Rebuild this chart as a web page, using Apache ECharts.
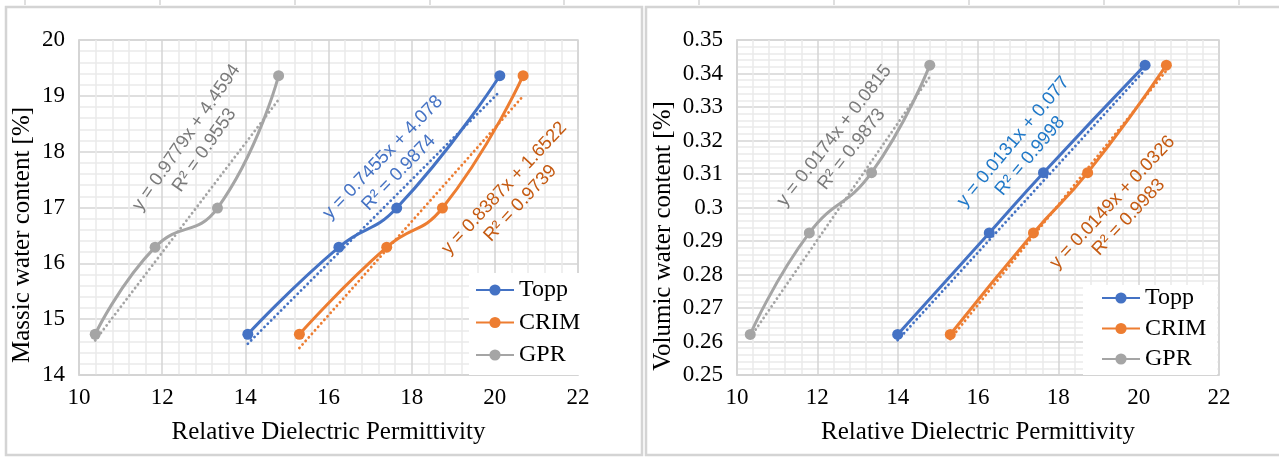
<!DOCTYPE html>
<html>
<head>
<meta charset="utf-8">
<title>Water content vs relative dielectric permittivity</title>
<script src="https://cdn.jsdelivr.net/npm/echarts@6/dist/echarts.min.js"></script>
<style>
  html, body { margin: 0; padding: 0; background: #ffffff; }
  #chart { width: 1279px; height: 458px; }
</style>
</head>
<body>
<div id="chart"></div>
<script>
// ---- data ----------------------------------------------------------------
const seriesNames = ['Topp', 'CRIM', 'GPR'];

// Massic water content [%] (left panel)
const massicWater = [14.73, 16.29, 16.99, 19.36];
const massicPermTopp = [14.06, 16.25, 17.64, 20.12];
const massicPermCrim = [15.30, 17.40, 18.74, 20.68];
const massicPermGpr  = [10.39, 11.83, 13.33, 14.80];

// Volumic water content (right panel)
const volumicWater = [0.2621, 0.2924, 0.3104, 0.3425];
const volumicPermTopp = [14.00, 16.28, 17.63, 20.16];
const volumicPermCrim = [15.31, 17.38, 18.73, 20.69];
const volumicPermGpr  = [10.33, 11.80, 13.35, 14.80];

// Linear trend lines: slope, intercept, R² (as printed on the chart)
const massicSlope     = [0.7455, 0.8387, 0.9779];
const massicIntercept = [4.078, 1.6522, 4.4594];
const massicR2        = ['0.9874', '0.9739', '0.9553'];
const volumicSlope     = [0.0131, 0.0149, 0.0174];
const volumicIntercept = [0.077, 0.0326, 0.0815];
const volumicR2        = ['0.9998', '0.9983', '0.9873'];

// Equation labels: anchor point (data units) and rotation (degrees)
const massicLabelX   = [17.50, 20.42, 12.80];
const massicLabelY   = [17.76, 17.21, 18.14];
const massicLabelRot = [46, 47, 55];
const volumicLabelX   = [17.09, 19.55, 12.64];
const volumicLabelY   = [0.3175, 0.2993, 0.3194];
const volumicLabelRot = [50, 47, 52];

// Axis tick labels
const permTicks    = [10, 12, 14, 16, 18, 20, 22];
const massicTicks  = [14, 15, 16, 17, 18, 19, 20];
const volumicTicks = ['0.25', '0.26', '0.27', '0.28', '0.29', '0.3',
                      '0.31', '0.32', '0.33', '0.34', '0.35'];

// ---- styling -------------------------------------------------------------
const COLORS = ['#4472C4', '#ED7D31', '#A5A5A5'];
const LABEL_COLORS_LEFT  = ['#4472C4', '#C55A11', '#7A7A7A'];
const LABEL_COLORS_RIGHT = ['#1F78C8', '#C55A11', '#7A7A7A'];
const SERIF = "'Liberation Serif', 'Times New Roman', serif";
const SANS = "'Liberation Sans', Arial, sans-serif";
const MAJOR = '#d4d4d4';
const MINOR = '#eaeaea';

function tickFormatter(ticks) {
  return function (v) {
    let best = ticks[0];
    for (const t of ticks) {
      if (Math.abs(Number(t) - v) < Math.abs(Number(best) - v)) best = t;
    }
    return String(best);
  };
}

function valueAxis(gridIndex, ticks, extra) {
  const lo = Number(ticks[0]);
  const hi = Number(ticks[ticks.length - 1]);
  const step = +(Number(ticks[1]) - Number(ticks[0])).toFixed(6);
  return Object.assign({
    type: 'value',
    gridIndex: gridIndex,
    min: lo,
    max: hi,
    interval: step,
    axisLine: { show: true, lineStyle: { color: MAJOR, width: 1.5 } },
    axisTick: { show: false },
    minorTick: { show: false, splitNumber: 5 },
    splitLine: { show: true, lineStyle: { color: MAJOR, width: 1.5 } },
    minorSplitLine: { show: true, lineStyle: { color: MINOR, width: 1.5 } },
    axisLabel: {
      show: true,
      showMinLabel: true,
      showMaxLabel: true,
      color: '#000',
      fontFamily: SERIF,
      fontSize: 23,
      formatter: tickFormatter(ticks)
    }
  }, extra || {});
}

function xAxisFor(gridIndex) {
  const ax = valueAxis(gridIndex, permTicks, {
    name: 'Relative Dielectric Permittivity',
    nameLocation: 'middle',
    nameGap: 45,
    nameTextStyle: { color: '#000', fontFamily: SERIF, fontSize: 25 }
  });
  ax.axisLabel.margin = 11;
  return ax;
}

function yAxisFor(gridIndex, ticks) {
  const ax = valueAxis(gridIndex, ticks);
  ax.axisLabel.margin = 14;
  return ax;
}

function zip(xs, ys) {
  return xs.map((x, i) => [x, ys[i]]);
}

function dataSeries(name, idx, gridIdx, xs, ys) {
  return {
    name: name,
    type: 'line',
    xAxisIndex: gridIdx,
    yAxisIndex: gridIdx,
    data: zip(xs, ys),
    smooth: 0.5,
    symbol: 'circle',
    symbolSize: 11,
    color: COLORS[idx],
    lineStyle: { color: COLORS[idx], width: 3 },
    itemStyle: { color: COLORS[idx] },
    z: 3
  };
}

// Trend line drawn across the x-range of its series from the printed equation
function trendSeries(name, idx, gridIdx, xs, slope, intercept) {
  const x0 = Math.min.apply(null, xs);
  const x1 = Math.max.apply(null, xs);
  return {
    name: name + ' trend',
    type: 'line',
    xAxisIndex: gridIdx,
    yAxisIndex: gridIdx,
    data: [[x0, slope * x0 + intercept], [x1, slope * x1 + intercept]],
    symbol: 'none',
    lineStyle: { color: COLORS[idx], width: 2.8, type: [0.1, 4.6], cap: 'round' },
    z: 4,
    silent: true
  };
}

const leftX = [massicPermTopp, massicPermCrim, massicPermGpr];
const rightX = [volumicPermTopp, volumicPermCrim, volumicPermGpr];

const series = [];
seriesNames.forEach((n, i) => series.push(dataSeries(n, i, 0, leftX[i], massicWater)));
seriesNames.forEach((n, i) => series.push(trendSeries(n, i, 0, leftX[i], massicSlope[i], massicIntercept[i])));
seriesNames.forEach((n, i) => series.push(dataSeries(n, i, 1, rightX[i], volumicWater)));
seriesNames.forEach((n, i) => series.push(trendSeries(n, i, 1, rightX[i], volumicSlope[i], volumicIntercept[i])));

function legendAt(left, top, gap, padding) {
  return {
    data: seriesNames,
    orient: 'vertical',
    left: left,
    top: top,
    itemGap: gap,
    itemWidth: 38,
    itemHeight: 14,
    padding: padding,
    backgroundColor: '#ffffff',
    selectedMode: false,
    textStyle: { color: '#000', fontFamily: SERIF, fontSize: 24, lineHeight: 24 }
  };
}

// Panel frames and the tick marks of the outer frame above them
const frame = [
  { type: 'rect', shape: { x: 6, y: 7, width: 636, height: 448 },
    style: { fill: 'none', stroke: '#d4d4d4', lineWidth: 2.5 }, silent: true, z: -10 },
  { type: 'rect', shape: { x: 646, y: 7, width: 640, height: 448 },
    style: { fill: 'none', stroke: '#d4d4d4', lineWidth: 2.5 }, silent: true, z: -10 }
];
[25, 160, 295, 430, 564, 699, 834, 969, 1104, 1239].forEach(x => {
  frame.push({ type: 'line', shape: { x1: x, y1: 0, x2: x, y2: 5 },
    style: { stroke: '#d4d4d4', lineWidth: 1.5 }, silent: true });
});

// Vertical axis titles
frame.push({
  type: 'text', x: 22, y: 235, rotation: Math.PI / 2,
  style: { text: 'Massic water content [%]', fill: '#000', fontFamily: SERIF,
           fontSize: 25, align: 'center', verticalAlign: 'middle' },
  silent: true
});
frame.push({
  type: 'text', x: 663, y: 236, rotation: Math.PI / 2,
  style: { text: 'Volumic water content [%]', fill: '#000', fontFamily: SERIF,
           fontSize: 25, align: 'center', verticalAlign: 'middle' },
  silent: true
});

const chart = echarts.init(document.getElementById('chart'), null, { renderer: 'canvas' });

chart.setOption({
  animation: false,
  backgroundColor: '#ffffff',
  grid: [
    { left: 79, top: 40, width: 499, height: 335, containLabel: false,
      show: true, borderColor: MAJOR, borderWidth: 1.5 },
    { left: 737, top: 40, width: 482, height: 335, containLabel: false,
      show: true, borderColor: MAJOR, borderWidth: 1.5 }
  ],
  xAxis: [xAxisFor(0), xAxisFor(1)],
  yAxis: [yAxisFor(0, massicTicks), yAxisFor(1, volumicTicks)],
  legend: [
    legendAt(469, 273, 8.5, [5, 3, 8, 6]),
    legendAt(1083, 285, 6.5, [1, 11, 4, 18])
  ],
  series: series,
  graphic: frame
});

// Equation labels, placed in data coordinates of each panel
function equationText(slope, intercept, r2) {
  return 'y = ' + slope + 'x + ' + intercept + '\nR² = ' + r2;
}

const labels = [];
for (let i = 0; i < 3; i++) {
  const p = chart.convertToPixel({ gridIndex: 0 }, [massicLabelX[i], massicLabelY[i]]);
  labels.push({
    type: 'text', x: p[0], y: p[1], rotation: massicLabelRot[i] * Math.PI / 180,
    style: { text: equationText(massicSlope[i], massicIntercept[i], massicR2[i]),
             fill: LABEL_COLORS_LEFT[i], fontFamily: SANS, fontSize: 18.5, lineHeight: 22,
             align: 'center', verticalAlign: 'middle' },
    silent: true, z: 10
  });
  const q = chart.convertToPixel({ gridIndex: 1 }, [volumicLabelX[i], volumicLabelY[i]]);
  labels.push({
    type: 'text', x: q[0], y: q[1], rotation: volumicLabelRot[i] * Math.PI / 180,
    style: { text: equationText(volumicSlope[i], volumicIntercept[i], volumicR2[i]),
             fill: LABEL_COLORS_RIGHT[i], fontFamily: SANS, fontSize: 18.5, lineHeight: 22,
             align: 'center', verticalAlign: 'middle' },
    silent: true, z: 10
  });
}

chart.setOption({ graphic: frame.concat(labels) });
</script>
</body>
</html>
